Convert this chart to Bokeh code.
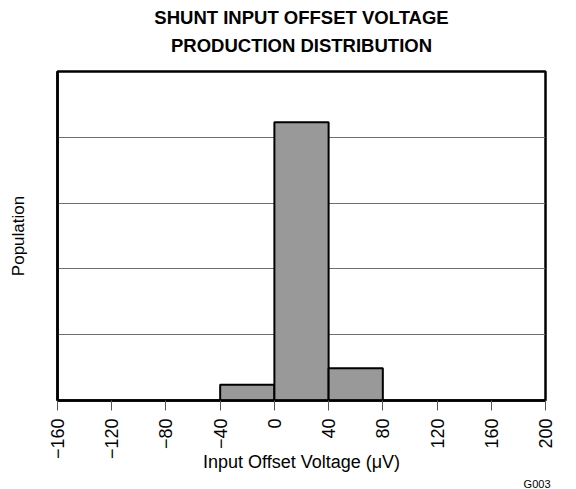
from bokeh.plotting import figure
from bokeh.models import Range1d, FixedTicker, Title, LinearAxis
from bokeh.embed import file_html
from bokeh.resources import INLINE

# ---- data ----
bin_left = [-40, 0, 40]
bin_right = [0, 40, 80]
population = [0.24, 4.23, 0.49]
x_ticks = [-160, -120, -80, -40, 0, 40, 80, 120, 160, 200]
x_tick_labels = ["\u2212160", "\u2212120", "\u221280", "\u221240", "0", "40", "80", "120", "160", "200"]
y_grid = [1, 2, 3, 4]
title_line1 = "SHUNT INPUT OFFSET VOLTAGE"
title_line2 = "PRODUCTION DISTRIBUTION"

FONT = "Liberation Sans"

p = figure(width=576, height=489, output_backend="svg", toolbar_location=None,
           x_range=Range1d(-160, 200), y_range=Range1d(0, 5),
           title=title_line1,
           min_border_left=57, min_border_right=31, min_border_top=69, min_border_bottom=89)

# keep references to the default axes before adding the extra one
xa = p.below[0]
ya = p.left[0]

p.title.align = "center"
p.title.text_font = FONT
p.title.text_font_size = "18.5px"
p.title.text_font_style = "bold"
p.title.text_color = "black"
p.title.standoff = 8

# second title line as a label-only axis above the frame
top_axis = LinearAxis(ticker=FixedTicker(ticks=[]), axis_label=title_line2,
                      axis_label_text_font=FONT, axis_label_text_font_size="18.5px",
                      axis_label_text_font_style="bold", axis_label_text_color="black",
                      axis_label_standoff=16, axis_line_color=None,
                      major_tick_line_color=None, minor_tick_line_color=None,
                      major_label_text_font_size="0px")
p.add_layout(top_axis, "above")

p.quad(left=bin_left, right=bin_right, bottom=0, top=population,
       fill_color="#999999", line_color="black", line_width=2)

p.outline_line_color = "black"
p.outline_line_width = 2.5
p.outline_line_alpha = 1

# x axis
xa.ticker = FixedTicker(ticks=x_ticks)
xa.major_label_overrides = dict(zip(x_ticks, x_tick_labels))
xa.major_label_orientation = 1.5707963
xa.major_label_text_font = FONT
xa.major_label_text_font_size = "18px"
xa.major_label_text_color = "black"
xa.major_label_standoff = 8
xa.major_tick_in = 0
xa.major_tick_out = 10
xa.major_tick_line_color = "#555555"
xa.minor_tick_line_color = None
xa.axis_line_color = "black"
xa.axis_line_width = 2.5
xa.axis_label = "Input Offset Voltage (\u03bcV)"
xa.axis_label_text_font = FONT
xa.axis_label_text_font_size = "18px"
xa.axis_label_text_font_style = "normal"
xa.axis_label_text_color = "black"
xa.axis_label_standoff = -10

# y axis
ya.ticker = FixedTicker(ticks=[])
ya.major_tick_line_color = None
ya.minor_tick_line_color = None
ya.axis_line_color = "black"
ya.axis_line_width = 2.5
ya.axis_label = "Population"
ya.axis_label_text_font = FONT
ya.axis_label_text_font_size = "17px"
ya.axis_label_text_font_style = "normal"
ya.axis_label_text_color = "black"
ya.axis_label_standoff = 30

p.xgrid.visible = False
p.ygrid.ticker = FixedTicker(ticks=y_grid)
p.ygrid.grid_line_color = "#6e6e6e"
p.ygrid.grid_line_width = 1

p.add_layout(Title(text="G003", align="right", text_font=FONT, text_font_size="11px",
                   text_font_style="normal", text_color="black", standoff=0, offset=-5), "below")

p.background_fill_color = "white"
p.border_fill_color = "white"

open("out.html", "w").write(file_html(p, INLINE))
